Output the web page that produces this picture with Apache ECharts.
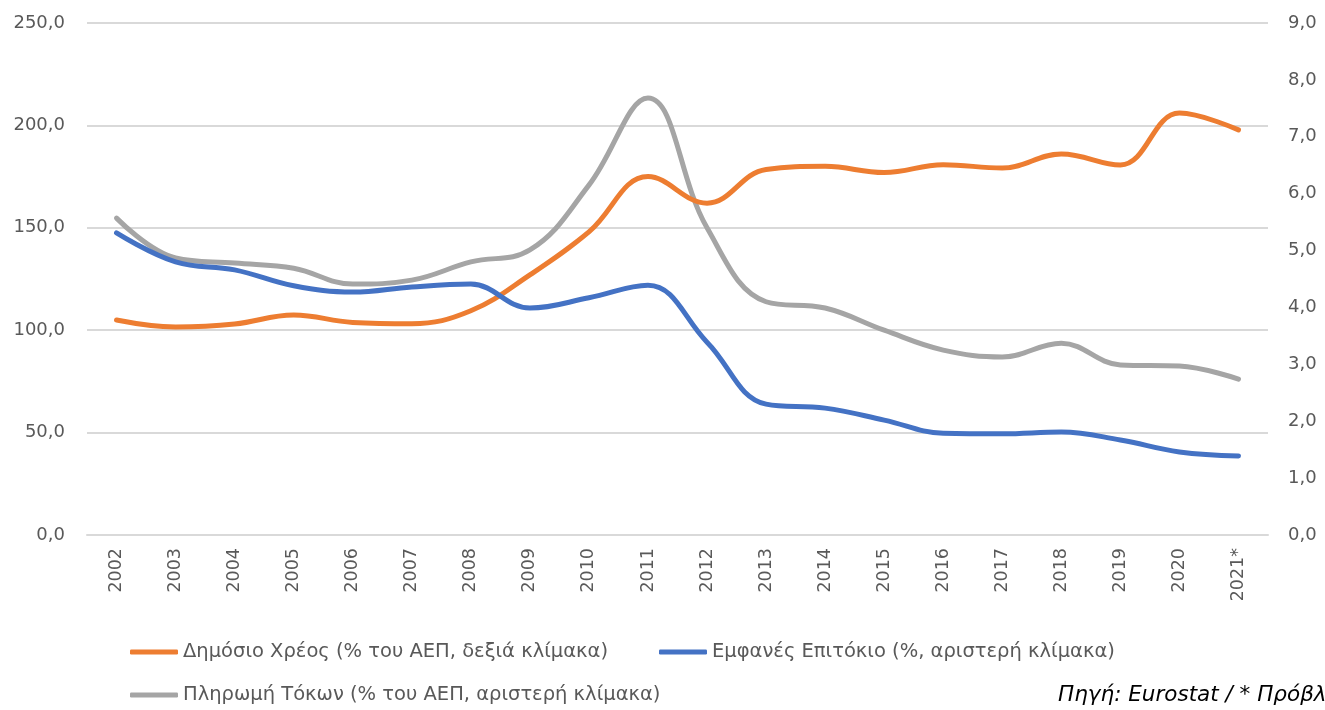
<!DOCTYPE html>
<html>
<head>
<meta charset="utf-8">
<script src="https://cdn.jsdelivr.net/npm/echarts@6/dist/echarts.min.js"></script>
<style>
  html, body { margin: 0; padding: 0; background: #fff; }
  #chart { width: 1325px; height: 710px; }
</style>
</head>
<body>
<div id="chart"></div>
<script>
// κατηγορίες (έτη)
const years = ["2002", "2003", "2004", "2005", "2006", "2007", "2008", "2009", "2010", "2011",
  "2012", "2013", "2014", "2015", "2016", "2017", "2018", "2019", "2020", "2021*"];

// Δημόσιο Χρέος, % ΑΕΠ (σχεδιάζεται στην αριστερή κλίμακα)
const debt = [105.0, 101.6, 103.0, 107.4, 103.8, 103.2, 109.5, 127.0, 148.0, 175.0,
  162.0, 178.5, 180.0, 177.0, 180.8, 179.2, 186.0, 180.7, 206.0, 197.8];

// Εμφανές Επιτόκιο, % (δεξιά κλίμακα)
const rate = [5.31, 4.80, 4.66, 4.38, 4.27, 4.36, 4.41, 3.99, 4.17, 4.39,
  3.39, 2.30, 2.23, 2.02, 1.79, 1.78, 1.81, 1.67, 1.46, 1.39];

// Πληρωμή Τόκων, % ΑΕΠ (δεξιά κλίμακα)
const interest = [5.57, 4.87, 4.78, 4.69, 4.41, 4.48, 4.80, 5.01, 6.15, 7.68,
  5.40, 4.10, 3.99, 3.60, 3.25, 3.13, 3.37, 2.99, 2.97, 2.74];

const names = [
  "Δημόσιο Χρέος (% του ΑΕΠ, δεξιά κλίμακα)",
  "Εμφανές Επιτόκιο (%, αριστερή κλίμακα)",
  "Πληρωμή Τόκων (% του ΑΕΠ, αριστερή κλίμακα)"
];
const colors = ["#ED7D31", "#4472C4", "#A5A5A5"];

const fontFamily = "'DejaVu Sans', sans-serif";
const fmt = v => v.toFixed(1).replace(".", ",");

let chart = echarts.init(document.getElementById("chart"));

const legendBase = {
  orient: "horizontal",
  icon: "roundRect",
  itemWidth: 48,
  itemHeight: 5,
  padding: 0,
  textStyle: { color: "#595959", fontSize: 19.5, fontFamily: fontFamily }
};

chart.setOption({
  animation: false,
  grid: { left: 87, right: 57, top: 23, bottom: 175 },
  legend: [
    Object.assign({ data: [names[0]], left: 130, top: 642 }, legendBase),
    Object.assign({ data: [names[1]], left: 659, top: 642 }, legendBase),
    Object.assign({ data: [names[2]], left: 130, top: 685 }, legendBase)
  ],
  graphic: [{
    type: "text",
    left: 1058,
    top: 684,
    style: {
      text: "Πηγή: Eurostat / * Πρόβλεψη",
      fill: "#000",
      font: "italic 21.5px " + fontFamily
    }
  }],
  xAxis: {
    type: "category",
    data: years,
    boundaryGap: true,
    axisLine: { lineStyle: { color: "#D9D9D9", width: 2 } },
    axisTick: { show: false },
    axisLabel: {
      rotate: 90,
      margin: 13,
      color: "#595959",
      fontSize: 17.5,
      fontFamily: fontFamily
    }
  },
  yAxis: [
    {
      type: "value",
      min: 0,
      max: 250,
      interval: 50,
      axisLine: { show: false },
      axisTick: { show: false },
      splitLine: { lineStyle: { color: "#D9D9D9", width: 2 } },
      axisLabel: { formatter: fmt, margin: 22, color: "#595959", fontSize: 18, fontFamily: fontFamily }
    },
    {
      type: "value",
      min: 0,
      max: 9,
      interval: 1,
      axisLine: { show: false },
      axisTick: { show: false },
      splitLine: { show: false },
      axisLabel: { formatter: fmt, margin: 20, color: "#595959", fontSize: 18, fontFamily: fontFamily }
    }
  ],
  series: [
    {
      name: names[0], type: "line", yAxisIndex: 0, data: debt,
      smooth: 0.4, symbol: "none",
      lineStyle: { color: colors[0], width: 5, cap: "round" },
      itemStyle: { color: colors[0] }
    },
    {
      name: names[1], type: "line", yAxisIndex: 1, data: rate,
      smooth: 0.4, symbol: "none",
      lineStyle: { color: colors[1], width: 5, cap: "round" },
      itemStyle: { color: colors[1] }
    },
    {
      name: names[2], type: "line", yAxisIndex: 1, data: interest,
      smooth: 0.4, symbol: "none", z: 1,
      lineStyle: { color: colors[2], width: 5, cap: "round" },
      itemStyle: { color: colors[2] }
    }
  ]
});
</script>
</body>
</html>
